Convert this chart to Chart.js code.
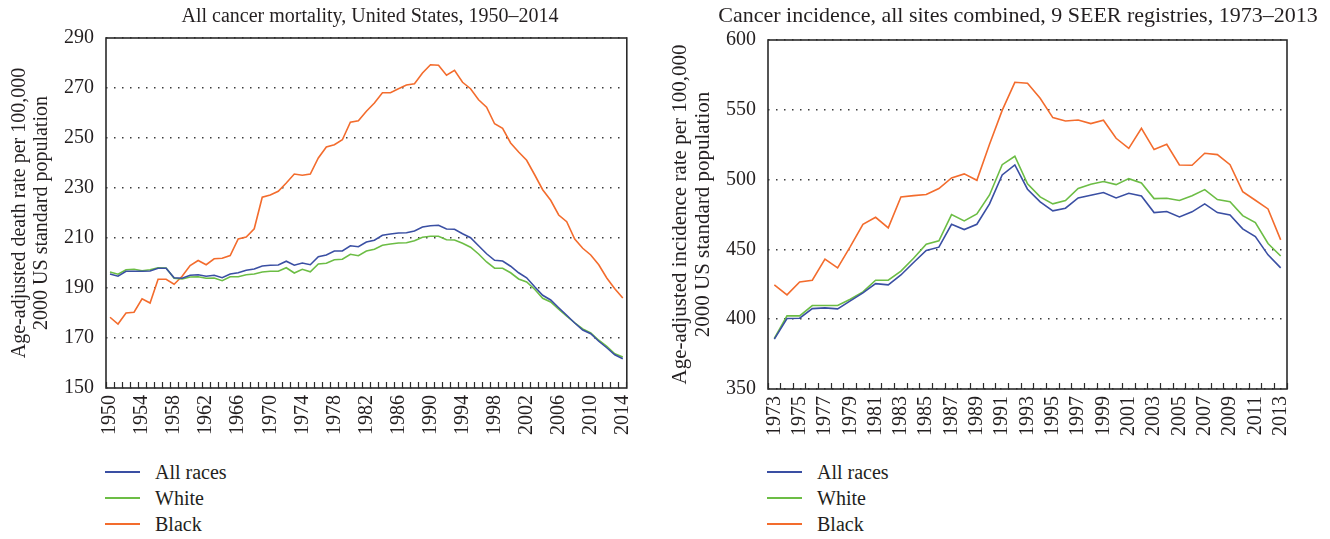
<!DOCTYPE html>
<html>
<head>
<meta charset="utf-8">
<script src="https://cdn.jsdelivr.net/npm/chart.js@4.4.1/dist/chart.umd.min.js"></script>
<style>
  body { margin: 0; background: #fff; width: 1330px; height: 539px; overflow: hidden; position: relative; font-family: 'Liberation Serif', serif; color: #231f20; }
  canvas { position: absolute; top: 0; }
  #mortChart { left: 0; }
  #incChart { left: 660px; }
  .chart-title { position: absolute; white-space: nowrap; transform: translateX(-50%); }
  #mortTitle { left: 370px; top: 3px; font-size: 20px; line-height: 24px; }
  #incTitle { left: 1018px; top: 2px; font-size: 22px; line-height: 26px; }
  .legend-row { position: absolute; height: 24px; line-height: 24px; font-size: 20px; white-space: nowrap; }
  .legend-row span.ln { position: absolute; top: 11px; height: 2px; width: 35px; }
  .legend-row span.tx { position: absolute; }
</style>
</head>
<body>
<canvas id="mortChart" width="660" height="450"></canvas>
<canvas id="incChart" width="670" height="450"></canvas>
<div class="chart-title" id="mortTitle"></div>
<div class="chart-title" id="incTitle"></div>
<div id="mortLegend"></div>
<div id="incLegend"></div>
<script>
// 범례 이름과 색상
const seriesNames = ['All races', 'White', 'Black'];
const seriesColors = ['#3a4fa3', '#6cbd45', '#f36c2d'];

// 사망률 1950-2014
const mortYears = ['1950','1951','1952','1953','1954','1955','1956','1957','1958','1959',
  '1960','1961','1962','1963','1964','1965','1966','1967','1968','1969',
  '1970','1971','1972','1973','1974','1975','1976','1977','1978','1979',
  '1980','1981','1982','1983','1984','1985','1986','1987','1988','1989',
  '1990','1991','1992','1993','1994','1995','1996','1997','1998','1999',
  '2000','2001','2002','2003','2004','2005','2006','2007','2008','2009',
  '2010','2011','2012','2013','2014'];
const mortAll = [195.6,194.7,196.7,196.7,196.7,196.8,197.9,197.9,194.1,193.9,
  195.1,195.3,194.7,195.1,194.1,195.6,196.1,197.1,197.6,198.8,
  199.1,199.2,200.7,199.1,200.0,199.3,202.5,203.2,204.8,204.8,
  206.9,206.5,208.4,209.1,211.1,211.6,212.0,212.1,212.8,214.4,
  214.9,215.1,213.6,213.5,211.7,210.1,206.9,203.7,201.1,200.8,
  198.7,196.1,194.1,190.5,187.1,185.2,182.1,179.1,176.0,173.2,
  171.7,168.7,166.1,163.3,161.7];
const mortWhite = [196.4,195.5,197.3,197.5,196.9,197.3,198.1,198.0,193.9,193.6,
  194.4,194.5,193.9,194.0,192.9,194.5,194.5,195.3,195.6,196.4,
  196.7,196.7,198.1,196.0,197.5,196.5,199.6,199.9,201.3,201.5,
  203.5,202.9,204.8,205.5,207.1,207.6,208.0,208.1,208.9,210.3,
  210.7,210.7,209.3,209.2,207.9,206.3,203.6,200.4,197.9,197.9,
  196.1,193.6,192.4,189.5,185.9,184.4,181.5,178.7,176.1,173.6,
  172.0,169.1,166.7,163.7,162.4];
const mortBlack = [178.3,175.6,180.0,180.3,185.7,184.0,193.5,193.5,191.5,194.7,
  199.0,201.0,199.3,201.7,201.9,203.0,209.6,210.4,213.7,226.3,
  227.2,228.7,232.0,235.6,235.1,235.6,242.0,246.4,247.3,249.3,
  256.3,256.9,260.7,264.0,268.1,268.1,269.7,271.2,271.7,276.0,
  279.3,279.1,275.1,277.1,272.3,269.7,265.3,262.3,255.7,253.9,
  248.0,244.4,241.1,235.3,229.3,225.1,219.2,216.5,209.6,205.9,
  203.2,199.3,194.0,189.7,186.0];
const mortLabelYears = ['1950','1954','1958','1962','1966','1970','1974','1978','1982',
  '1986','1990','1994','1998','2002','2006','2010','2014'];

// 발생률 1973-2013
const incYears = ['1973','1974','1975','1976','1977','1978','1979','1980','1981','1982',
  '1983','1984','1985','1986','1987','1988','1989','1990','1991','1992',
  '1993','1994','1995','1996','1997','1998','1999','2000','2001','2002',
  '2003','2004','2005','2006','2007','2008','2009','2010','2011','2012','2013'];
const incAll = [385.7,400.5,400.7,407.6,408.1,407.4,413.1,418.9,425.5,424.6,
  431.7,440.6,449.2,451.6,468.0,464.2,468.0,482.6,503.3,510.5,
  493.1,484.0,477.6,479.5,486.9,488.8,490.7,486.9,490.2,488.3,
  476.4,477.1,473.3,476.9,482.6,476.4,474.7,464.7,459.2,446.1,436.8];
const incWhite = [386.2,402.4,402.4,409.8,409.8,409.8,414.3,419.6,427.9,427.9,
  434.4,443.7,453.7,456.1,474.9,470.4,475.4,489.0,510.7,516.7,
  497.0,487.6,482.6,485.0,493.6,496.7,498.6,496.4,500.7,497.6,
  486.4,486.6,485.0,488.5,492.8,485.7,484.2,474.2,469.2,454.2,445.3];
const incBlack = [424.6,417.4,426.7,427.9,443.0,436.8,452.0,468.0,473.0,465.4,
  487.6,488.5,489.3,493.6,501.2,504.1,499.5,525.3,549.6,569.7,
  569.0,558.2,544.4,542.0,542.7,540.1,542.5,529.6,522.4,536.8,
  521.5,525.3,510.5,510.3,518.9,517.9,510.7,491.4,485.2,479.0,456.8];
const incLabelYears = ['1973','1975','1977','1979','1981','1983','1985','1987','1989','1991',
  '1993','1995','1997','1999','2001','2003','2005','2007','2009','2011','2013'];

const FONT = "'Liberation Serif', 'Times New Roman', serif";
const INK = '#231f20';

// 플롯 영역 테두리
const framePlugin = {
    id: 'frame',
    afterDatasetsDraw(chart) {
        const a = chart.chartArea;
        const ctx = chart.ctx;
        ctx.save();
        ctx.strokeStyle = '#2b2b2b';
        ctx.lineWidth = 1.6;
        ctx.strokeRect(a.left, a.top, a.right - a.left, a.bottom - a.top);
        ctx.restore();
    }
};

function makeDatasets(series) {
    return series.map((data, i) => ({
        label: seriesNames[i],
        data: data,
        borderColor: seriesColors[i],
        backgroundColor: seriesColors[i],
        borderWidth: 1.6,
        pointRadius: 0,
        tension: 0,
        fill: false
    }));
}

function makeChart(id, cfg) {
    const ctx = document.getElementById(id).getContext('2d');
    return new Chart(ctx, {
        type: 'line',
        data: {
            labels: cfg.years,
            datasets: makeDatasets(cfg.series)
        },
        plugins: [framePlugin],
        options: {
            responsive: false,
            animation: false,
            devicePixelRatio: 1,
            layout: { padding: { left: 0, right: cfg.padRight, top: cfg.padTop, bottom: 0 } },
            plugins: {
                legend: { display: false },
                tooltip: { enabled: false },
                title: { display: false }
            },
            scales: {
                x: {
                    type: 'category',
                    offset: true,
                    afterFit: s => { s.height = cfg.xHeight; },
                    grid: {
                        display: true,
                        offset: true,
                        drawOnChartArea: false,
                        drawTicks: true,
                        tickLength: -6,
                        tickColor: '#2b2b2b',
                        tickWidth: 1.2
                    },
                    border: { display: false },
                    ticks: {
                        autoSkip: false,
                        minRotation: 90,
                        maxRotation: 90,
                        padding: 13,
                        color: INK,
                        font: { family: FONT, size: 20 },
                        callback: function(v) {
                            const lbl = this.getLabelForValue(v);
                            return cfg.shown.includes(lbl) ? lbl : '';
                        }
                    }
                },
                y: {
                    min: cfg.yMin,
                    max: cfg.yMax,
                    afterFit: s => { s.width = cfg.yWidth; },
                    grid: {
                        color: '#3a3a3a',
                        lineWidth: 1.5,
                        drawTicks: false
                    },
                    border: { display: false, dash: [1.5, 6.5] },
                    ticks: {
                        stepSize: cfg.yStep,
                        padding: 12,
                        color: INK,
                        font: { family: FONT, size: 20 }
                    },
                    title: {
                        display: true,
                        text: cfg.yTitle,
                        color: INK,
                        font: { family: FONT, size: cfg.yTitleSize, lineHeight: 1.1 },
                        padding: { top: 9, bottom: 0 }
                    }
                }
            }
        }
    });
}

// 범례 (HTML)
function buildLegend(chart, elId, left) {
    const box = document.getElementById(elId);
    chart.data.datasets.forEach((ds, i) => {
        const row = document.createElement('div');
        row.className = 'legend-row';
        row.style.left = left + 'px';
        row.style.top = (460 + i * 26) + 'px';
        const ln = document.createElement('span');
        ln.className = 'ln';
        ln.style.left = '0px';
        ln.style.background = ds.borderColor;
        const tx = document.createElement('span');
        tx.className = 'tx';
        tx.style.left = '50px';
        tx.textContent = ds.label;
        row.appendChild(ln);
        row.appendChild(tx);
        box.appendChild(row);
    });
}

const mortChart = makeChart('mortChart', {
    years: mortYears,
    series: [mortAll, mortWhite, mortBlack],
    shown: mortLabelYears,
    yTitle: ['Age-adjusted death rate per 100,000', '2000 US standard population'],
    yTitleSize: 20,
    yMin: 150, yMax: 290, yStep: 20,
    yWidth: 106, xHeight: 62, padRight: 27, padTop: 38
});

const incChart = makeChart('incChart', {
    years: incYears,
    series: [incAll, incWhite, incBlack],
    shown: incLabelYears,
    yTitle: ['Age-adjusted incidence rate per 100,000', '2000 US standard population'],
    yTitleSize: 21,
    yMin: 350, yMax: 600, yStep: 50,
    yWidth: 108, xHeight: 61, padRight: 43, padTop: 40
});

document.getElementById('mortTitle').textContent = 'All cancer mortality, United States, 1950\u20132014';
document.getElementById('incTitle').textContent = 'Cancer incidence, all sites combined, 9 SEER registries, 1973\u20132013';

buildLegend(mortChart, 'mortLegend', 105);
buildLegend(incChart, 'incLegend', 767);
</script>
</body>
</html>
